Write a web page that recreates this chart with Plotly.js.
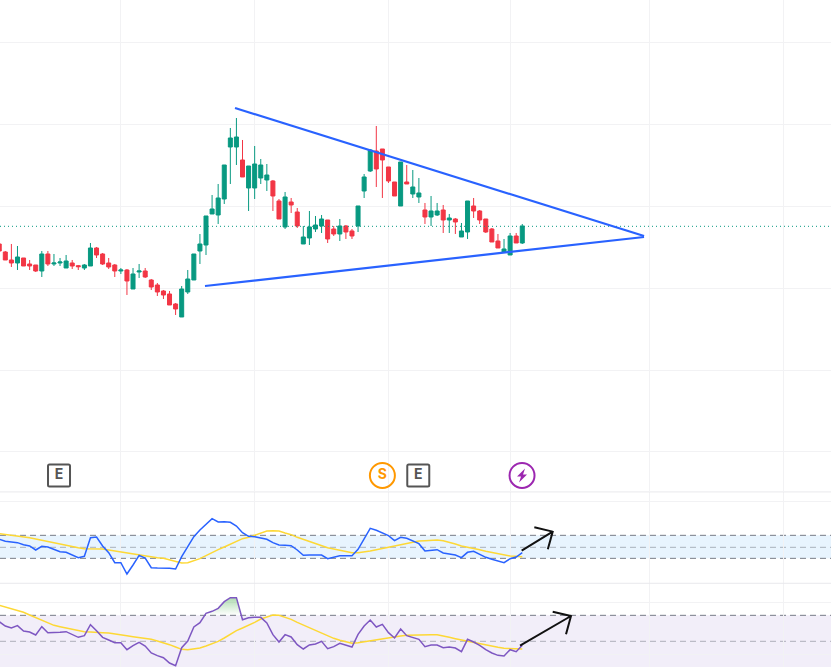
<!DOCTYPE html>
<html>
<head>
<meta charset="utf-8">
<script src="https://cdn.plot.ly/plotly-3.0.1.min.js"></script>
<style>html,body{margin:0;padding:0;background:#fff}#chart{width:831px;height:667px}</style>
</head>
<body>
<div id="chart"></div>
<script>
const openPrices = [768,744,720,711,726,708,705,687,738,708,711,696,711,703,696,702,756,738,711,705,687,690,633,684,687,660,645,627,618,588,549,624,660,747,765,858,855,903,1059,1059,1020,936,936,966,960,957,897,819,894,864,768,786,813,822,840,813,798,822,807,822,927,987,1047,1053,999,954,882,954,918,909,870,849,855,870,840,843,789,804,882,867,843,813,777,744,735,792,771];
const highPrices = [768,747,768,762,726,720,705,747,747,738,726,735,720,705,708,771,759,741,726,708,696,693,696,708,696,663,651,630,627,591,642,690,738,798,852,915,948,1005,1116,1146,1080,1002,1062,1023,1008,960,903,924,906,876,822,867,852,855,840,822,843,825,813,882,978,1053,1122,1053,999,954,1014,1005,990,966,891,912,891,885,858,846,831,897,906,870,843,816,798,783,801,801,828];
const lowPrices = [747,720,699,690,702,690,684,669,702,702,702,696,693,690,690,702,726,705,693,669,678,615,633,666,666,630,612,603,585,555,549,618,660,708,735,858,828,888,948,1005,969,867,903,948,927,867,843,813,861,816,768,765,804,801,771,792,777,783,783,804,906,984,939,906,951,912,882,948,906,891,828,822,852,801,801,798,789,783,846,828,801,774,756,741,735,771,768];
const closePrices = [747,720,711,729,702,702,687,738,708,711,714,717,702,700,705,756,735,708,699,687,690,657,678,687,669,639,624,615,585,573,633,663,738,768,852,873,906,1005,1086,1089,969,1002,1008,1005,975,912,843,909,885,822,789,819,825,843,783,798,822,804,792,882,969,1050,993,1020,957,912,1014,948,939,921,849,867,867,840,846,834,807,897,867,840,804,774,756,753,792,771,822];

const blueOscillator = [182,176,174,172,166,162,150,161,159,153,145,143,136,127,131,187,189,162,142,112,112,78,105,134,126,97,96,96,95,93,130,160,190,210,227,244,234,235,233,222,202,191,190,187,182,172,165,164,163,150,134,135,135,135,124,128,133,133,133,152,185,215,209,202,193,178,188,185,176,169,147,150,151,141,138,135,127,143,146,137,128,122,116,112,124,129,142];
const blueAverage = [199,197,195,193,190,187,183,179,175,171,168,165,161,157,154,154,155,153,150,147,144,140,137,135,133,129,127,125,121,116,111,112,117,124,133,143,151,159,168,177,184,188,195,202,207,208,207,201,196,188,182,175,169,162,157,153,149,145,142,142,144,147,151,155,158,162,166,169,174,177,178,179,180,178,174,168,162,159,155,151,146,142,138,134,132,131,130];
const purpleOscillator = [235,222,216,223,207,204,195,220,202,202,203,205,197,188,193,226,208,188,180,172,172,151,163,173,162,141,133,127,111,103,157,177,219,232,260,266,275,295,307,307,241,247,248,248,231,196,174,196,189,166,153,165,168,176,154,160,170,165,159,197,222,240,219,227,202,186,213,193,188,182,160,165,165,157,159,156,145,182,174,164,151,141,134,132,151,145,164];
const purpleAverage = [284,279,274,269,263,255,247,238,230,224,220,216,213,209,205,204,204,202,201,199,197,193,190,188,186,182,177,172,166,159,152,151,153,156,162,169,176,186,197,208,216,224,233,243,250,255,254,249,242,233,225,216,207,199,192,185,179,174,170,172,175,177,181,185,188,190,192,194,195,196,196,196,196,193,188,184,180,177,173,169,165,162,158,155,154,154,153];

const candleIndex = openPrices.map((_, i) => i);
const lastPrice = 821;
const upperTrendX = [38.77, 106.02];
const upperTrendY = [1176, 792];
const lowerTrendX = [33.83, 106.02];
const lowerTrendY = [642, 789];
const xRange = [0.128, 136.76];
const verticalGrid = [20.0, 42.03, 64.05, 84.13, 106.9, 128.95];
const priceGrid = [144, 387, 633, 879, 1125, 1374];
const blueGrid = [296];
const purpleGrid = [137, 293];

const blueBand = [125, 194, 158];
const purpleBand = [99, 254, 176];
const obFillX = [33.8, 34, 35, 36, 37, 38, 39, 39.8];
const obFillY = [254, 260, 266, 275, 295, 307, 307, 254];

const arrowUpperX = [85.9, 91.0, 87.98, 91.0, 90.2];
const arrowUpperY = [148, 205, 218, 205, 152];
const arrowLowerX = [85.63, 94.01, 91.0, 94.01, 93.19];
const arrowLowerY = [163, 252, 265, 252, 197];

const eventX = [9.83, 68.9];
const dividendX = [63.0];
const boltX = [85.96];
const eventRowY = 73.5;

const traces = [
  {type:'scatter',mode:'lines',x:xRange,y:[lastPrice,lastPrice],line:{color:'#089981',width:1,dash:'1px,3px'},xaxis:'x',yaxis:'y'},
  {type:'candlestick',x:candleIndex,open:openPrices,high:highPrices,low:lowPrices,close:closePrices,
    increasing:{line:{color:'#089981',width:1},fillcolor:'#089981'},
    decreasing:{line:{color:'#f23645',width:1},fillcolor:'#f23645'},
    whiskerwidth:0,xaxis:'x',yaxis:'y'},
  {type:'scatter',mode:'lines',x:upperTrendX,y:upperTrendY,line:{color:'#2962ff',width:2.2},xaxis:'x',yaxis:'y'},
  {type:'scatter',mode:'lines',x:lowerTrendX,y:lowerTrendY,line:{color:'#2962ff',width:2.2},xaxis:'x',yaxis:'y'},
  {type:'scatter',mode:'text',x:eventX,y:eventX.map(()=>eventRowY),text:eventX.map(()=>'<b>E</b>'),textposition:'middle center',
    textfont:{family:'Inter, Liberation Sans, sans-serif',size:14,color:'#555555'},xaxis:'x',yaxis:'y'},
  {type:'scatter',mode:'markers+text',x:dividendX,y:[eventRowY],text:['<b>S</b>'],textposition:'middle center',
    textfont:{family:'Inter, Liberation Sans, sans-serif',size:14,color:'#ff9800'},
    marker:{symbol:'circle-open',size:25,color:'#ff9800',line:{color:'#ff9800',width:2}},xaxis:'x',yaxis:'y'},
  {type:'scatter',mode:'markers',x:boltX,y:[eventRowY],
    marker:{symbol:'circle-open',size:25,color:'#9c27b0',line:{color:'#9c27b0',width:2}},xaxis:'x',yaxis:'y'},
  {type:'scatter',mode:'lines',x:candleIndex,y:blueAverage,line:{color:'#fdd835',width:1.5},xaxis:'x',yaxis:'y2'},
  {type:'scatter',mode:'lines',x:candleIndex,y:blueOscillator,line:{color:'#2962ff',width:1.5},xaxis:'x',yaxis:'y2'},
  {type:'scatter',mode:'lines',x:arrowUpperX,y:arrowUpperY,line:{color:'#111111',width:2},xaxis:'x',yaxis:'y2'},
  {type:'scatter',mode:'lines',x:obFillX,y:obFillX.map(()=>purpleBand[1]),line:{width:0},hoverinfo:'skip',xaxis:'x',yaxis:'y3'},
  {type:'scatter',mode:'lines',x:obFillX,y:obFillY,line:{width:0},fill:'tonexty',
    fillgradient:{type:'vertical',colorscale:[[0,'rgba(76,175,80,0)'],[1,'rgba(76,175,80,0.45)']]},xaxis:'x',yaxis:'y3'},
  {type:'scatter',mode:'lines',x:candleIndex,y:purpleAverage,line:{color:'#fdd835',width:1.5},xaxis:'x',yaxis:'y3'},
  {type:'scatter',mode:'lines',x:candleIndex,y:purpleOscillator,line:{color:'#7e57c2',width:1.5},xaxis:'x',yaxis:'y3'},
  {type:'scatter',mode:'lines',x:arrowLowerX,y:arrowLowerY,line:{color:'#111111',width:2},xaxis:'x',yaxis:'y3'}
];

function hline(yref, v, color, dash){
  return {type:'line',layer:'below',xref:'paper',x0:0,x1:1,yref:yref,y0:v,y1:v,line:{color:color,width:1,dash:dash}};
}
function band(yref, lo, hi, color){
  return {type:'rect',layer:'below',xref:'paper',x0:0,x1:1,yref:yref,y0:lo,y1:hi,fillcolor:color,line:{width:0}};
}
const roundedBox = 'M -9.5 -11 L 9.5 -11 Q 11 -11 11 -9.5 L 11 9.5 Q 11 11 9.5 11 L -9.5 11 Q -11 11 -11 9.5 L -11 -9.5 Q -11 -11 -9.5 -11 Z';
const boltPath = 'M 3 7 L -5 -1 L -1 -1 L -3 -7 L 5 1 L 1 1 Z';
const eventBoxes = eventX.map(x => ({type:'path',xref:'x',yref:'y',xsizemode:'pixel',ysizemode:'pixel',xanchor:x,yanchor:eventRowY,
  path:roundedBox,line:{color:'#555555',width:2},fillcolor:'rgba(0,0,0,0)'}));
const boltShape = {type:'path',xref:'x',yref:'y',xsizemode:'pixel',ysizemode:'pixel',xanchor:boltX[0],yanchor:eventRowY,
  path:boltPath,line:{width:0},fillcolor:'#9c27b0'};
const shapes = [
  band('y2', blueBand[0], blueBand[1], 'rgba(33,150,243,0.1)'),
  hline('y2', blueBand[1], '#787b86', '6px,4px'),
  hline('y2', blueBand[2], 'rgba(120,123,134,0.55)', '6px,4px'),
  hline('y2', blueBand[0], '#787b86', '6px,4px'),
  band('y3', purpleBand[0], purpleBand[1], 'rgba(126,87,194,0.1)'),
  hline('y3', purpleBand[1], '#787b86', '6px,4px'),
  hline('y3', purpleBand[2], 'rgba(120,123,134,0.55)', '6px,4px'),
  {type:'line',xref:'paper',x0:0,x1:1,yref:'paper',y0:0.2625,y1:0.2625,line:{color:'#e9e9ec',width:1}},
  {type:'line',xref:'paper',x0:0,x1:1,yref:'paper',y0:0.1255,y1:0.1255,line:{color:'#e9e9ec',width:1}},
  boltShape
].concat(eventBoxes);

const gridColor = '#f2f2f4';
const layout = {
  width:831,height:667,autosize:false,showlegend:false,
  margin:{l:0,r:0,t:0,b:0,pad:0},
  paper_bgcolor:'#ffffff',plot_bgcolor:'#ffffff',
  boxgap:0.06,
  xaxis:{range:xRange,tickmode:'array',tickvals:verticalGrid,showticklabels:false,ticks:'',showgrid:true,gridcolor:gridColor,gridwidth:1,zeroline:false,showline:false,rangeslider:{visible:false},anchor:'y3'},
  yaxis:{domain:[0.2639,1],range:[27,1500],tickmode:'array',tickvals:priceGrid,showticklabels:false,ticks:'',showgrid:true,gridcolor:gridColor,gridwidth:1,zeroline:false,showline:false},
  yaxis2:{domain:[0.12594,0.2624],range:[51,324],tickmode:'array',tickvals:blueGrid,showticklabels:false,ticks:'',showgrid:true,gridcolor:gridColor,gridwidth:1,zeroline:false,showline:false},
  yaxis3:{domain:[0,0.12594],range:[99,351],tickmode:'array',tickvals:purpleGrid,showticklabels:false,ticks:'',showgrid:true,gridcolor:gridColor,gridwidth:1,zeroline:false,showline:false},
  shapes:shapes,
  hovermode:false
};
Plotly.newPlot('chart',traces,layout,{displayModeBar:false,staticPlot:true});
</script>
</body>
</html>
